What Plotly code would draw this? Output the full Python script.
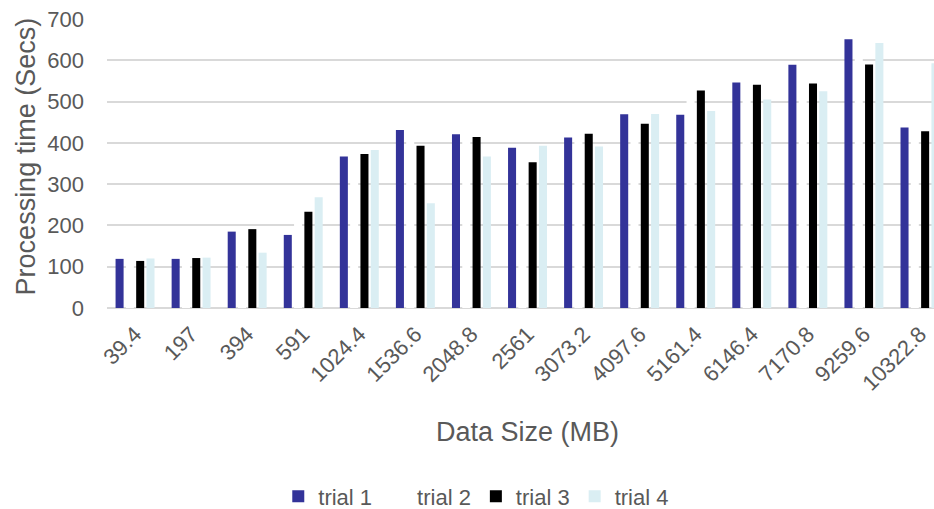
import plotly.graph_objects as go

# Data sizes (MB) on the category axis
data_sizes = ["39.4", "197", "394", "591", "1024.4", "1536.6", "2048.8", "2561",
              "3073.2", "4097.6", "5161.4", "6146.4", "7170.8", "9259.6", "10322.8"]

# Processing time in seconds for each trial
trial_1 = [119, 119, 185, 177, 367, 431, 421, 388, 413, 469, 468, 546, 589, 651, 437]
trial_2 = [117, 120, 188, 230, 370, 405, 410, 380, 415, 460, 520, 540, 570, 640, 440]
trial_3 = [114, 121, 191, 233, 373, 393, 414, 353, 422, 446, 527, 541, 544, 590, 428]
trial_4 = [120, 122, 134, 268, 383, 254, 367, 393, 391, 470, 477, 505, 525, 642, 593]

series = [
    ("trial 1", trial_1, "#333399"),
    ("trial 2", trial_2, "#FFFFFF"),
    ("trial 3", trial_3, "#000000"),
    ("trial 4", trial_4, "#DAEEF3"),
]

FONT = "Liberation Sans, Arial, sans-serif"
GREY = "#595959"

fig = go.Figure()
for name, vals, color in series:
    fig.add_trace(go.Bar(
        x=data_sizes, y=vals, name=name,
        marker=dict(color=color, line=dict(width=0)),
    ))

W, H = 934, 509
left, top, bottom = 106.5, 19, 200.7
plot_w = W - left
plot_h = H - top - bottom


def px_x(x):
    return (x - left) / plot_w


def px_y(y):
    return (H - bottom - y) / plot_h


fig.update_layout(
    width=W, height=H,
    margin=dict(l=left, r=0, t=top, b=bottom, pad=0, autoexpand=False),
    paper_bgcolor="white", plot_bgcolor="white",
    barmode="group", bargap=0.265, bargroupgap=0.22,
    font=dict(family=FONT, color=GREY, size=22),
    showlegend=True,
    legend=dict(
        orientation="h", x=px_x(476), xanchor="center",
        y=px_y(497), yanchor="middle",
        font=dict(size=22, color=GREY), itemwidth=30,
        traceorder="normal",
    ),
    xaxis=dict(
        type="category", range=[-0.5, 14.25], automargin=False,
        tickangle=-45, tickfont=dict(size=22, color=GREY), ticklabelstandoff=8,
        showgrid=False, showline=False, ticks="",
    ),
    yaxis=dict(
        range=[0, 700], dtick=100, automargin=False,
        tickfont=dict(size=22, color=GREY), ticklabelstandoff=22,
        showgrid=True, gridcolor="#D9D9D9", gridwidth=1.5,
        zeroline=True, zerolinecolor="#D9D9D9", zerolinewidth=1.5,
        showline=False, ticks="",
    ),
)

# Axis titles
fig.add_annotation(
    text="Processing time (Secs)", xref="paper", yref="paper",
    x=px_x(25), y=px_y(157), textangle=-90,
    showarrow=False, xanchor="center", yanchor="middle",
    font=dict(size=27, color=GREY, family=FONT),
)
fig.add_annotation(
    text="Data Size (MB)", xref="paper", yref="paper",
    x=px_x(527), y=px_y(432),
    showarrow=False, xanchor="center", yanchor="middle",
    font=dict(size=27, color=GREY, family=FONT),
)

fig.write_html("out.html")
